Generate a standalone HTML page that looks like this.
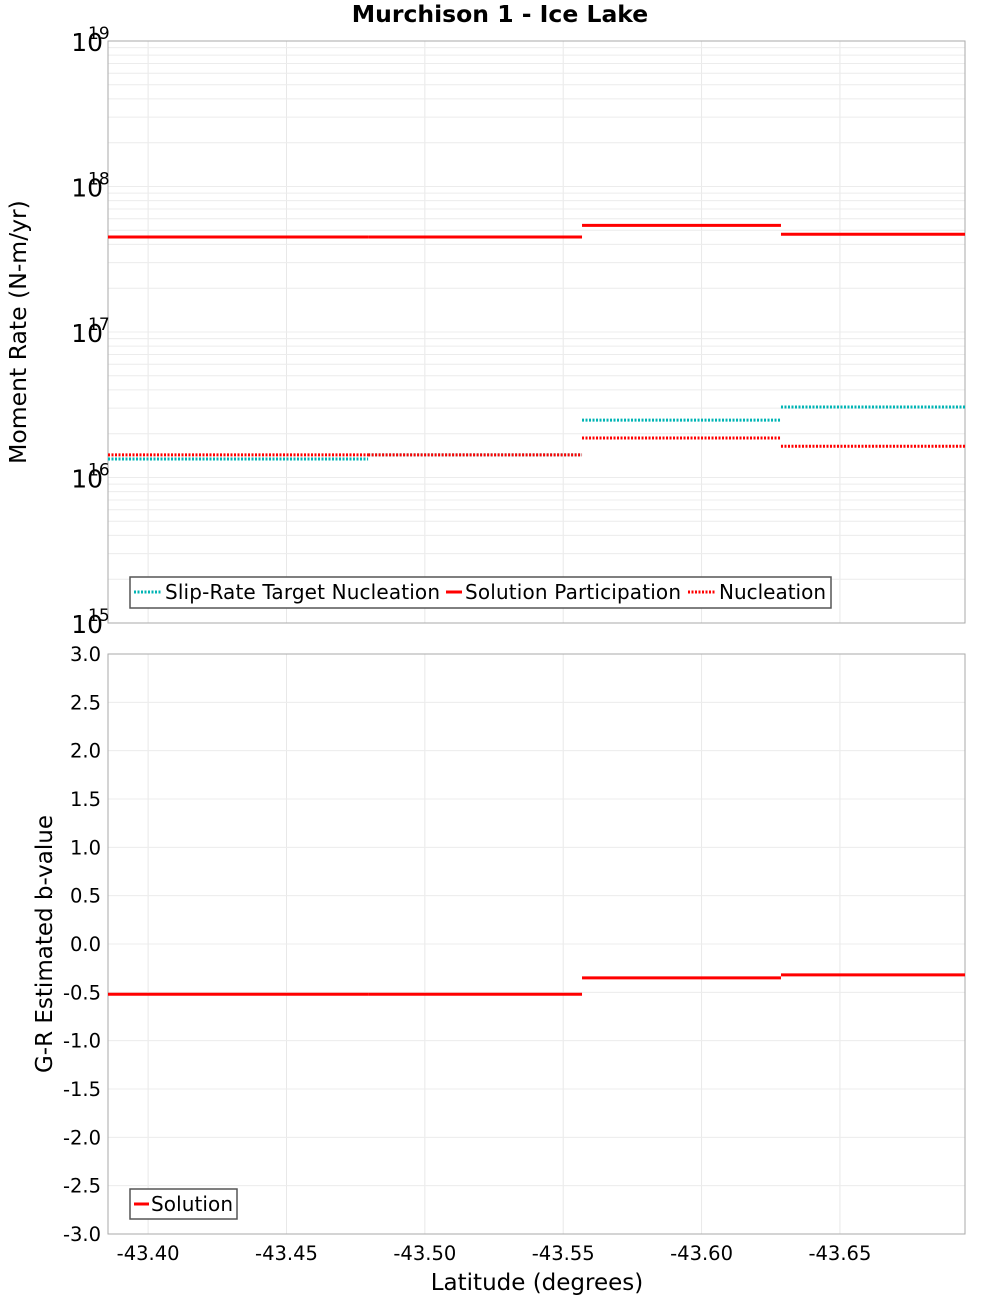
<!DOCTYPE html>
<html><head><meta charset="utf-8"><style>
body{margin:0;background:#fff;font-family:"Liberation Sans","DejaVu Sans",sans-serif}
svg text{font-family:"DejaVu Sans","Liberation Sans",sans-serif}
</style></head><body>
<svg id="chart" width="1000" height="1300" viewBox="0 0 1000 1300">
<text x="500" y="22" text-anchor="middle" font-size="23.5" font-weight="bold">Murchison 1 - Ice Lake</text>
<g id="grid"></g>
<rect x="108" y="41" width="857" height="582" fill="none" stroke="#aaa"/>
<rect x="108" y="654" width="857" height="580" fill="none" stroke="#aaa"/>
<g id="marks"></g>
<g id="labels"></g>
<text transform="translate(26,332) rotate(-90)" text-anchor="middle" font-size="23.5">Moment Rate (N-m/yr)</text>
<text transform="translate(52,944) rotate(-90)" text-anchor="middle" font-size="23">G-R Estimated b-value</text>
<text x="537" y="1290" text-anchor="middle" font-size="23">Latitude (degrees)</text>
<g>
<rect x="130" y="577" width="701" height="31" fill="#fff" stroke="#555" stroke-width="1.5"/>
<line x1="134" y1="592" x2="162" y2="592" stroke="#00b4b4" stroke-width="3" stroke-dasharray="2,1.5"/>
<text x="165" y="599" font-size="20" textLength="275">Slip-Rate Target Nucleation</text>
<line x1="446" y1="592" x2="462" y2="592" stroke="#f00" stroke-width="3"/>
<text x="465" y="599" font-size="20" textLength="216">Solution Participation</text>
<line x1="688" y1="592" x2="716" y2="592" stroke="#f00" stroke-width="3" stroke-dasharray="2,1.5"/>
<text x="719" y="599" font-size="20" textLength="107">Nucleation</text>
</g>
<g>
<rect x="130" y="1189" width="107" height="30" fill="#fff" stroke="#555" stroke-width="1.5"/>
<line x1="134" y1="1204" x2="149" y2="1204" stroke="#f00" stroke-width="3"/>
<text x="151" y="1211" font-size="20" textLength="82">Solution</text>
</g>
</svg>
<script>
const binEdges=[-43.3855,-43.4795,-43.5568,-43.6287,-43.6952];
const participation=[4.5e17,4.5e17,5.4e17,4.7e17];
const targetNucleation=[1.34e16,1.43e16,2.48e16,3.05e16];
const nucleation=[1.43e16,1.43e16,1.87e16,1.64e16];
const bValues=[-0.52,-0.52,-0.35,-0.32];
const xTicks=[-43.40,-43.45,-43.50,-43.55,-43.60,-43.65];
const logTicks=[15,16,17,18,19];
const bTicks=[-3,-2.5,-2,-1.5,-1,-0.5,0,0.5,1,1.5,2,2.5,3];
const NS='http://www.w3.org/2000/svg';
function X(lat){return 108+(-43.3855-lat)/(43.6952-43.3855)*857;}
function YL(v){return 623-(Math.log10(v)-15)/4*582;}
function YB(v){return 1234-(v+3)/6*580;}
function mk(parent,tag,attrs){const e=document.createElementNS(NS,tag);for(const k in attrs)e.setAttribute(k,attrs[k]);document.getElementById(parent).appendChild(e);return e;}
for(const t of xTicks){const x=X(t);
 let g=mk('grid','line',{x1:x,x2:x,y1:41,y2:623,stroke:'#e8e8e8'});
 
 
 g=mk('grid','line',{x1:x,x2:x,y1:654,y2:1234,stroke:'#e8e8e8'});
 
 
 const lb=mk('labels','text',{x:x,y:1260,'text-anchor':'middle','font-size':'19.5'});
 lb.textContent=t.toFixed(2);
 
 
}
for(let d=15;d<19;d++){for(let m=1;m<10;m++){const y=YL(m*Math.pow(10,d));
 const g=mk('grid','line',{x1:108,x2:965,y1:y,y2:y,stroke:'#ececec'});
 
 }}
for(const p of logTicks){const y=YL(Math.pow(10,p));
 const t=mk('labels','text',{x:103,y:y+10,'text-anchor':'end','font-size':'25'});
 t.textContent='10';
 
 
 const s=mk('labels','text',{x:88,y:y-2,'font-size':'17'});
 s.textContent=String(p);
 
 }
for(const b of bTicks){const y=YB(b);
 const g=mk('grid','line',{x1:108,x2:965,y1:y,y2:y,stroke:'#ececec'});
 
 
 const t=mk('labels','text',{x:101,y:y+7,'text-anchor':'end','font-size':'19.5'});
 t.textContent=b.toFixed(1);
 
 }
function series(vals,yf,color,dash,name){for(let i=0;i<vals.length;i++){
 const a={x1:X(binEdges[i]),x2:X(binEdges[i+1]),y1:yf(vals[i]),y2:yf(vals[i]),stroke:color,'stroke-width':3};
 if(dash)a['stroke-dasharray']='2,1.5';
 const l=mk('marks','line',a);
 
 }}
series(targetNucleation,YL,'#00b4b4',true,'target-nucleation-segment');
series(participation,YL,'#f00',false,'participation-segment');
series(nucleation,YL,'#f00',true,'nucleation-segment');
series(bValues,YB,'#f00',false,'b-value-segment');
</script>
</body></html>
